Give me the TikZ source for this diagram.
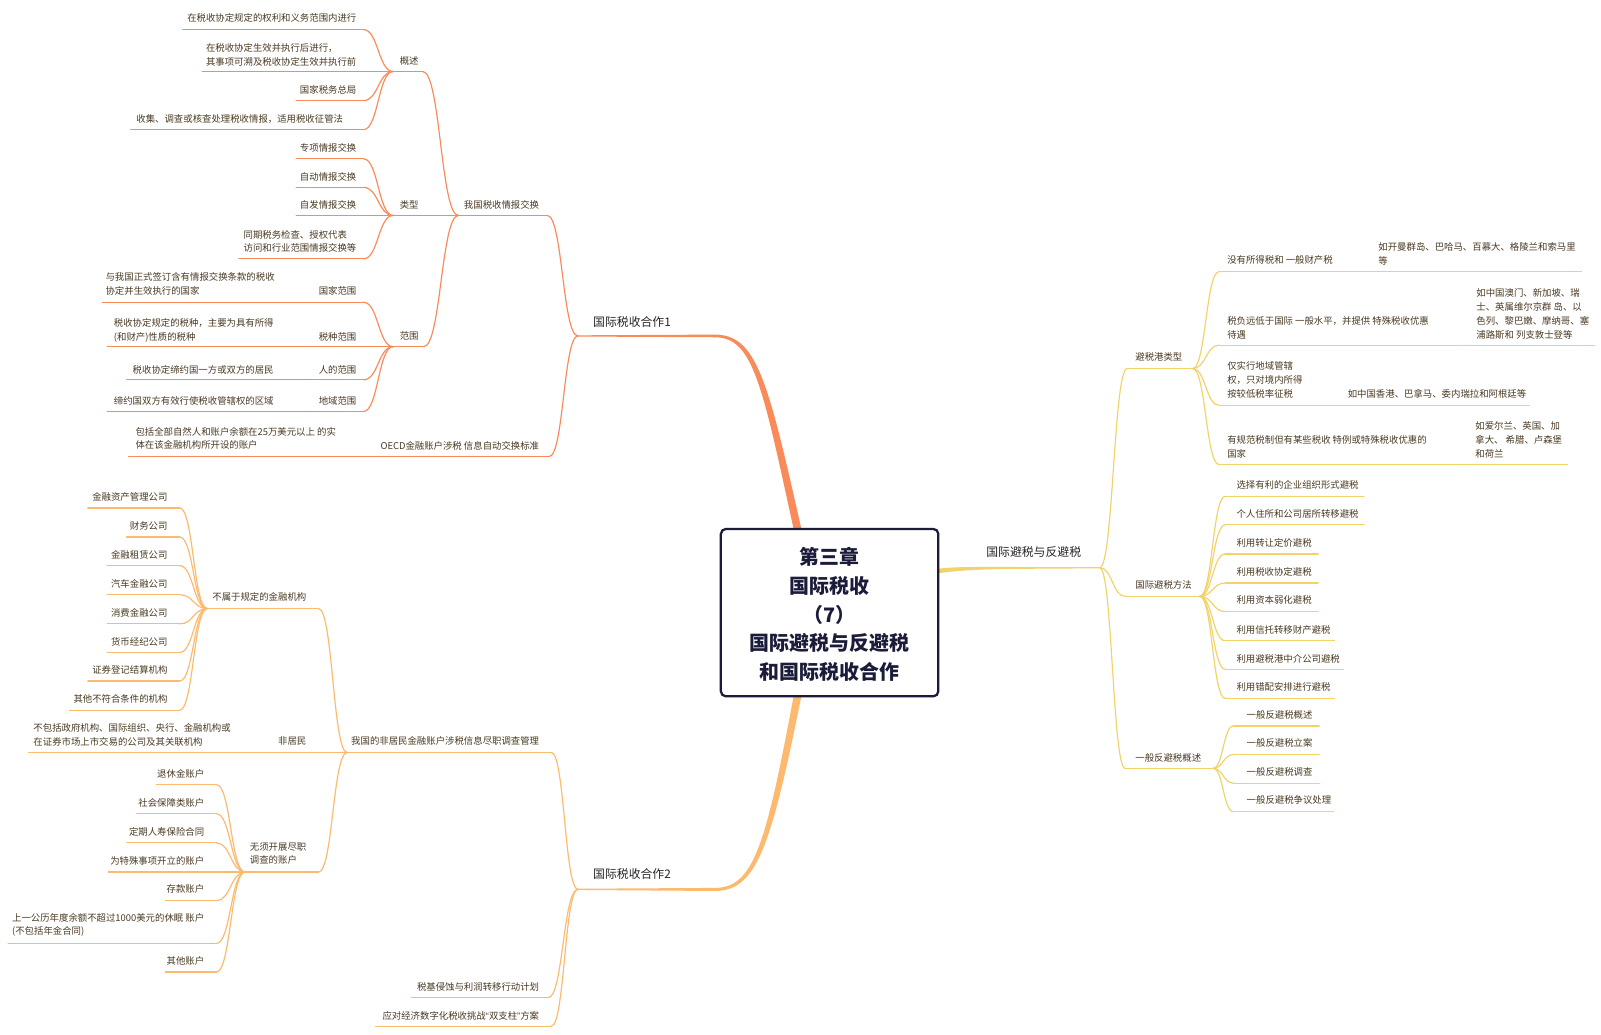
\documentclass[tikz,border=0pt]{standalone}
\usepackage{fontspec}
\setmainfont{Noto Sans CJK SC}
\newfontfamily\quotefont{Liberation Sans}
\usetikzlibrary{calc}
\definecolor{cA}{HTML}{F98B5B}
\definecolor{cB}{HTML}{FDBA6E}
\definecolor{cC}{HTML}{F1D36A}
\definecolor{txt}{HTML}{4A3A22}
\definecolor{mtxt}{HTML}{262626}
\definecolor{navy}{HTML}{1B1B3A}
\tikzset{
  lbl/.style={inner sep=0pt, outer sep=0pt, text=txt, align=left, yshift=-0.9pt, font=\fontsize{9.2}{13.6}\selectfont},
  topic/.style={inner sep=0pt, outer sep=0pt, text=mtxt, yshift=-0.9pt, font=\fontsize{11.6}{14}\selectfont},
  ul/.style={line width=1.15pt, line cap=round},
}
\newcommand{\LNode}[7]{%
  \node[lbl, anchor=east] (#1) at (#2,#3) {#7};
  \coordinate (#1-a) at (#4,#6);
  \coordinate (#1-b) at (#5,#6);
  \draw[ul] (#1-a) -- (#1-b);}
\newcommand{\RNode}[7]{%
  \node[lbl, anchor=west] (#1) at (#2,#3) {#7};
  \coordinate (#1-a) at (#4,#6);
  \coordinate (#1-b) at (#5,#6);
  \draw[ul] (#1-a) -- (#1-b);}
\newcommand{\Conn}[2]{\draw[ul] let \p1=(#1), \p2=(#2) in (\p1) .. controls ({0.5*\x1+0.5*\x2},\y1) and ({0.5*\x1+0.5*\x2},\y2) .. (\p2);}
\begin{document}
\begin{tikzpicture}[x=1pt,y=-1pt]
\fill[white] (0,0) rectangle (1568,1013);
\useasboundingbox (0,0) rectangle (1568,1013);

% ---------- main connectors (tapered) ----------
\fill[cA] (566,328.4) -- (700,327.7) .. controls (741,327.7) and (752,372) .. (784.8,518) -- (777.2,518) .. controls (746,374) and (737,330.3) .. (700,330.3) -- (566,329.6) -- cycle;
\fill[cB] (566,870.4) -- (700,869.6) .. controls (738,869.6) and (750,828) .. (777.2,682) -- (784.8,682) .. controls (755,830) and (741,872.6) .. (700,872.6) -- (566,871.6) -- cycle;
\fill[cC] (919,557) .. controls (935,554.8) and (960,555.3) .. (1000,555.3) -- (1077,555.4) -- (1077,556.6) -- (1000,557.1) .. controls (960,557.2) and (935,559) .. (919,561.5) -- cycle;

\node[topic, anchor=west] (m1) at (581,314) {国际税收合作1};
\coordinate (m1-a) at (566,329);
\node[topic, anchor=west] (m2) at (581,855) {国际税收合作2};
\coordinate (m2-a) at (566,871);
\node[topic, anchor=west] (m3) at (966,540) {国际避税与反避税};
\coordinate (m3-b) at (1077,556);

% ---------- branch 1 ----------
\begin{scope}[color=cA]
\LNode{A1}{528}{200}{449}{536}{211}{我国税收情报交换}
\LNode{A2}{528}{436}{365}{538}{447}{OECD金融账户涉税 信息自动交换标准}
\Conn{m1-a}{A1-b}\Conn{m1-a}{A2-b}
\LNode{B1}{410}{59}{385}{414}{70}{概述}
\LNode{B2}{410}{200}{385}{449}{211}{类型}
\LNode{B3}{410}{328}{385}{415}{339.5}{范围}
\Conn{A1-a}{B1-b}\Conn{A1-a}{B2-b}\Conn{A1-a}{B3-b}
\LNode{C1}{349}{17}{179}{356}{29}{在税收协定规定的权利和义务范围内进行}
\LNode{C2}{349}{52.5}{198}{385}{70}{在税收协定生效并执行后进行，\\其事项可溯及税收协定生效并执行前}
\LNode{C3}{349}{87}{290}{356}{98.5}{国家税务总局}
\LNode{C4}{336}{116}{128}{356}{127}{收集、调查或核查处理税收情报，适用税收征管法}
\Conn{B1-a}{C1-b}\Conn{B1-a}{C2-b}\Conn{B1-a}{C3-b}\Conn{B1-a}{C4-b}
\LNode{D1}{349}{144}{290}{356}{155.5}{专项情报交换}
\LNode{D2}{349}{172}{290}{356}{183.5}{自动情报交换}
\LNode{D3}{349}{200}{290}{385}{211}{自发情报交换}
\LNode{D4}{349}{235.5}{234}{356}{253.5}{同期税务检查、授权代表\\访问和行业范围情报交换等}
\Conn{B2-a}{D1-b}\Conn{B2-a}{D2-b}\Conn{B2-a}{D3-b}\Conn{B2-a}{D4-b}
\LNode{E1}{349}{284}{300}{356}{296}{国家范围}
\LNode{E2}{349}{329}{300}{385}{339.5}{税种范围}
\LNode{E3}{349}{361}{300}{356}{372}{人的范围}
\LNode{E4}{349}{392}{300}{356}{403}{地域范围}
\Conn{B3-a}{E1-b}\Conn{B3-a}{E2-b}\Conn{B3-a}{E3-b}\Conn{B3-a}{E4-b}
\LNode{E1c}{269}{277.5}{100}{300}{296}{与我国正式签订含有情报交换条款的税收\\协定并生效执行的国家}
\LNode{E2c}{268}{322.5}{105}{300}{339.5}{税收协定规定的税种，主要为具有所得\\(和财产)性质的税种}
\LNode{E3c}{268}{361}{124}{300}{372}{税收协定缔约国一方或双方的居民}
\LNode{E4c}{268}{392}{105}{300}{403}{缔约国双方有效行使税收管辖权的区域}
\Conn{E1-a}{E1c-b}\Conn{E2-a}{E2c-b}\Conn{E3-a}{E3c-b}\Conn{E4-a}{E4c-b}
\LNode{F1}{329}{428.5}{126}{365}{447}{包括全部自然人和账户余额在25万美元以上 的实\\体在该金融机构所开设的账户}
\Conn{A2-a}{F1-b}
\end{scope}

% ---------- branch 2 ----------
\begin{scope}[color=cB]
\LNode{G1}{528}{725}{340}{540}{737}{我国的非居民金融账户涉税信息尽职调查管理}
\LNode{G2}{528}{966}{403}{537}{977}{税基侵蚀与利润转移行动计划}
\LNode{G3}{528}{994}{368}{540}{1005}{应对经济数字化税收挑战{\quotefont “}双支柱{\quotefont ”}方案}
\Conn{m2-a}{G1-b}\Conn{m2-a}{G2-b}\Conn{m2-a}{G3-b}
\LNode{H1}{300}{584}{203}{312}{596}{不属于规定的金融机构}
\LNode{H2}{300}{725}{268}{340}{737}{非居民}
\LNode{H3}{300}{835}{240}{312}{854}{无须开展尽职\\调查的账户}
\Conn{G1-a}{H1-b}\Conn{G1-a}{H2-b}\Conn{G1-a}{H3-b}
\LNode{H2c}{226}{718.5}{28}{268}{737}{不包括政府机构、国际组织、央行、金融机构或\\在证券市场上市交易的公司及其关联机构}
\Conn{H2-a}{H2c-b}
\LNode{I1}{164}{486}{86}{176}{497.5}{金融资产管理公司}
\LNode{I2}{164}{514}{124}{176}{526}{财务公司}
\LNode{I3}{164}{543}{105}{176}{554}{金融租赁公司}
\LNode{I4}{164}{571}{105}{176}{582.5}{汽车金融公司}
\LNode{I5}{164}{599}{105}{176}{611}{消费金融公司}
\LNode{I6}{164}{628}{105}{176}{639}{货币经纪公司}
\LNode{I7}{164}{655}{86}{176}{667}{证券登记结算机构}
\LNode{I8}{164}{684}{68}{176}{695.5}{其他不符合条件的机构}
\foreach \k in {1,...,8}{\Conn{H1-a}{I\k-b}}
\LNode{J1}{200}{757}{153}{212}{768.5}{退休金账户}
\LNode{J2}{200}{785}{134}{212}{797}{社会保障类账户}
\LNode{J3}{200}{814}{124}{212}{825.5}{定期人寿保险合同}
\LNode{J4}{200}{842}{106}{240}{854}{为特殊事项开立的账户}
\LNode{J5}{200}{870}{162}{212}{882}{存款账户}
\LNode{J6}{200}{905}{8}{212}{924}{上一公历年度余额不超过1000美元的休眠 账户\\(不包括年金合同)}
\LNode{J7}{200}{940}{162}{212}{952}{其他账户}
\foreach \k in {1,...,7}{\Conn{H3-a}{J\k-b}}
\end{scope}

% ---------- branch 3 ----------
\begin{scope}[color=cC]
\RNode{K1}{1112}{349}{1104}{1168}{361}{避税港类型}
\RNode{K2}{1112}{572}{1102}{1175}{584}{国际避税方法}
\RNode{K3}{1112}{741}{1102}{1188}{752.5}{一般反避税概述}
\Conn{m3-b}{K1-a}\Conn{m3-b}{K2-a}\Conn{m3-b}{K3-a}
\RNode{L1}{1202}{254}{1194}{1340}{266}{没有所得税和 一般财产税}
\RNode{L1c}{1350}{247.5}{1340}{1549}{266}{如开曼群岛、巴哈马、百慕大、格陵兰和索马里\\等}
\RNode{L2}{1202}{320}{1194}{1436}{338}{税负远低于国际 一般水平，并提供 特殊税收优惠\\待遇}
\RNode{L2c}{1446}{306.5}{1436}{1562}{338}{如中国澳门、新加坡、瑞\\士、英属维尔京群 岛、以\\色列、黎巴嫩、摩纳哥、塞\\浦路斯和 列支敦士登等}
\RNode{L3}{1202}{371.5}{1194}{1312}{397}{仅实行地域管辖\\权，只对境内所得\\按较低税率征税}
\RNode{L3c}{1320}{385}{1312}{1498}{397}{如中国香港、巴拿马、委内瑞拉和阿根廷等}
\RNode{L4}{1202}{436.5}{1194}{1436}{455}{有规范税制但有某些税收 特例或特殊税收优惠的\\国家}
\RNode{L4c}{1445}{430}{1436}{1535}{455}{如爱尔兰、英国、加\\拿大、 希腊、卢森堡\\和荷兰}
\foreach \k in {1,...,4}{\Conn{K1-b}{L\k-a}\Conn{L\k-b}{L\k c-a}}
\RNode{M1}{1211}{474}{1200}{1336}{486}{选择有利的企业组织形式避税}
\RNode{M2}{1211}{502}{1200}{1336}{514}{个人住所和公司居所转移避税}
\RNode{M3}{1211}{531}{1200}{1291}{542.5}{利用转让定价避税}
\RNode{M4}{1211}{559}{1200}{1291}{571}{利用税收协定避税}
\RNode{M5}{1211}{587}{1200}{1291}{599}{利用资本弱化避税}
\RNode{M6}{1211}{616}{1200}{1307}{627.5}{利用信托转移财产避税}
\RNode{M7}{1211}{644}{1200}{1316}{655.5}{利用避税港中介公司避税}
\RNode{M8}{1211}{672}{1200}{1307}{684}{利用错配安排进行避税}
\foreach \k in {1,...,8}{\Conn{K2-b}{M\k-a}}
\RNode{N1}{1221}{699}{1208}{1292}{711}{一般反避税概述}
\RNode{N2}{1221}{727}{1208}{1292}{739}{一般反避税立案}
\RNode{N3}{1221}{755}{1208}{1292}{767}{一般反避税调查}
\RNode{N4}{1221}{783}{1208}{1306}{795}{一般反避税争议处理}
\foreach \k in {1,...,4}{\Conn{K3-b}{N\k-a}}
\end{scope}

% ---------- central topic ----------
\node[draw=navy, fill=white, line width=2.2pt, rounded corners=5pt, minimum width=213pt, minimum height=164pt, inner sep=0pt, align=center, text=navy, font=\fontsize{19.5}{28.25}\selectfont\bfseries] (ctr) at (812.5,600) {};
\node[inner sep=0pt, align=center, text=navy, font=\fontsize{19.5}{28.25}\selectfont\bfseries] (ctrtext) at (812.5,601.8) {第三章\\国际税收\\（7）\\国际避税与反避税\\和国际税收合作};
\end{tikzpicture}
\end{document}
